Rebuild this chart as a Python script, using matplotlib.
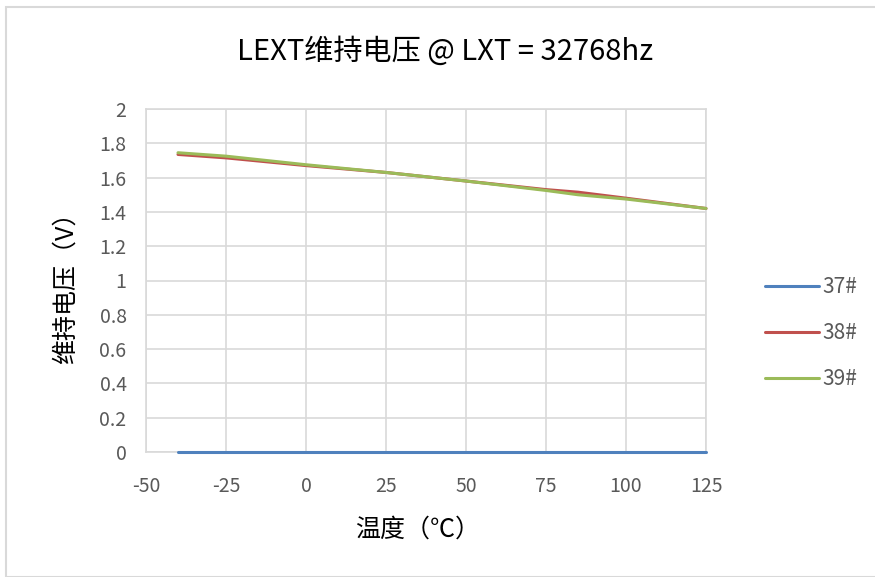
import matplotlib
matplotlib.use("Agg")
import matplotlib.pyplot as plt
from matplotlib.patches import Rectangle

plt.rcParams['font.family'] = ['Noto Sans CJK SC', 'DejaVu Sans']
plt.rcParams['axes.unicode_minus'] = False

temps = [-40, -25, 0, 25, 50, 75, 85, 100, 125]
s37 = [0, 0, 0, 0, 0, 0, 0, 0, 0]
s38 = [1.735, 1.715, 1.67, 1.63, 1.58, 1.53, 1.515, 1.48, 1.42]
s39 = [1.745, 1.725, 1.675, 1.63, 1.58, 1.525, 1.50, 1.475, 1.42]
series_names = ['37#', '38#', '39#']
colors = ['#4F81BD', '#C0504D', '#9BBB59']

title = 'LEXT维持电压 @ LXT = 32768hz'
xlabel = '温度（℃）'
ylabel = '维持电压（V）'
xticks = [-50, -25, 0, 25, 50, 75, 100, 125]
yticks = [0, 0.2, 0.4, 0.6, 0.8, 1, 1.2, 1.4, 1.6, 1.8, 2]
ytick_labels = ['0', '0.2', '0.4', '0.6', '0.8', '1', '1.2', '1.4', '1.6', '1.8', '2']

fig = plt.figure(figsize=(8.75, 5.77), dpi=100)
fig.patches.append(Rectangle((6/875, 0), 1, 1 - 7/577, transform=fig.transFigure,
                             fill=False, edgecolor='#d9d9d9', linewidth=1.5))
ax = fig.add_axes([146/875, 1 - 452/577, 560/875, 343/577])

for vals, name, c in zip([s37, s38, s39], series_names, colors):
    ax.plot(temps, vals, color=c, linewidth=2.2, label=name, solid_capstyle='round',
            clip_on=False, zorder=3)

ax.set_xlim(-50, 125)
ax.set_ylim(0, 2)
ax.set_xticks(xticks)
ax.set_yticks(yticks)
ax.set_yticklabels(ytick_labels)
ax.grid(True, color='#d9d9d9', linewidth=1.2)
ax.set_axisbelow(True)
for sp in ax.spines.values():
    sp.set_color('#d9d9d9')
    sp.set_linewidth(1.2)
ax.tick_params(length=0, labelsize=14, labelcolor='#595959')
ax.tick_params(axis='y', pad=14)
ax.tick_params(axis='x', pad=17)

fig.text(445/875, 1 - 52/577, title, ha='center', va='center', fontsize=21, color='black')
fig.text(418/875, 1 - 530/577, xlabel, ha='center', va='center', fontsize=18, color='black')
fig.text(66/875, 1 - 282/577, ylabel, ha='center', va='center', fontsize=18, color='black', rotation=90)

leg = ax.legend(loc='center left', bbox_to_anchor=(746/875, 1 - 333/577), bbox_transform=fig.transFigure,
                frameon=False, fontsize=15, labelspacing=1.15, handlelength=2.6, handletextpad=0.15)
for t in leg.get_texts():
    t.set_color('#595959')

fig.savefig('out.png', dpi=100, facecolor='white')
